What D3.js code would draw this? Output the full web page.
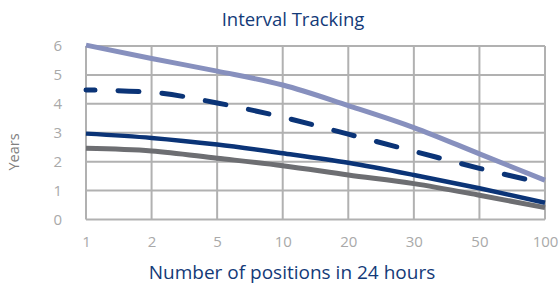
<!DOCTYPE html>
<html><head><meta charset="utf-8">
<script src="https://cdn.jsdelivr.net/npm/d3@7"></script>
<style>body{margin:0;background:#fff}svg{display:block}</style>
</head><body>
<svg id="c" width="560" height="284"></svg>
<script>
const categories = ["1","2","5","10","20","30","50","100"];
const yTicks = [0,1,2,3,4,5,6];
const seriesLight  = [6.03, 5.57, 5.13, 4.65, 3.94, 3.18, 2.27, 1.36];
const seriesDashed = [4.48, 4.40, 4.03, 3.54, 2.95, 2.36, 1.77, 1.24];
const seriesDark   = [2.97, 2.82, 2.59, 2.29, 1.96, 1.54, 1.08, 0.58];
const seriesGray   = [2.46, 2.37, 2.12, 1.86, 1.54, 1.24, 0.84, 0.41];
const title = "Interval Tracking";
const xTitle = "Number of positions in 24 hours";
const yTitle = "Years";

const svg = d3.select("#c");
const L = 86, R = 545, T = 46, B = 219.5;
const x = d3.scalePoint().domain(categories).range([L, R]);
const y = d3.scaleLinear().domain([0, 6]).range([B, T]);
const font = "'Open Sans', sans-serif";
const grid = "#b1b1b1";

// grid
svg.append("g").selectAll("line").data(yTicks).join("line")
  .attr("x1", L).attr("x2", R).attr("y1", d => y(d)).attr("y2", d => y(d))
  .attr("stroke", grid).attr("stroke-width", 2);
svg.append("g").selectAll("line").data(categories).join("line")
  .attr("x1", d => x(d)).attr("x2", d => x(d)).attr("y1", T).attr("y2", B)
  .attr("stroke", grid).attr("stroke-width", 2);

// axes labels via d3 axes
const yAxis = svg.append("g").attr("transform", `translate(${L - 24},0)`)
  .call(d3.axisLeft(y).tickValues(yTicks).tickFormat(d3.format("d")).tickSize(0).tickPadding(0));
yAxis.select(".domain").remove();
yAxis.selectAll("text").attr("fill", "#a9a9a9").attr("font-size", 15).attr("font-family", font);

const xAxis = svg.append("g").attr("transform", `translate(0,${B + 17})`)
  .call(d3.axisBottom(x).tickSize(0).tickPadding(0));
xAxis.select(".domain").remove();
xAxis.selectAll("text").attr("fill", "#a9a9a9").attr("font-size", 15).attr("font-family", font).attr("dy", "0.72em");

// lines
const line = d3.line().x((d, i) => x(categories[i])).y(d => y(d)).curve(d3.curveMonotoneX);
svg.append("path").attr("d", line(seriesGray)).attr("fill", "none").attr("stroke", "#6d6e72").attr("stroke-width", 5);
svg.append("path").attr("d", line(seriesDark)).attr("fill", "none").attr("stroke", "#0b3477").attr("stroke-width", 4.5);
svg.append("path").attr("d", line(seriesDashed)).attr("fill", "none").attr("stroke", "#0b3477").attr("stroke-width", 5)
  .attr("stroke-dasharray", "21,23").attr("stroke-dashoffset", 12).attr("stroke-linecap", "round");
svg.append("path").attr("d", line(seriesLight)).attr("fill", "none").attr("stroke", "#8790be").attr("stroke-width", 5);

// titles
svg.append("text").attr("x", 293).attr("y", 26).attr("text-anchor", "middle")
  .attr("font-family", font).attr("font-size", 18.5).attr("fill", "#133a78").text(title);
svg.append("text").attr("x", 292).attr("y", 279).attr("text-anchor", "middle")
  .attr("font-family", font).attr("font-size", 19).attr("fill", "#133a78").text(xTitle);
svg.append("text").attr("transform", "translate(19,152) rotate(-90)").attr("text-anchor", "middle")
  .attr("font-family", font).attr("font-size", 14.5).attr("fill", "#808080").text(yTitle);
</script>
</body></html>
